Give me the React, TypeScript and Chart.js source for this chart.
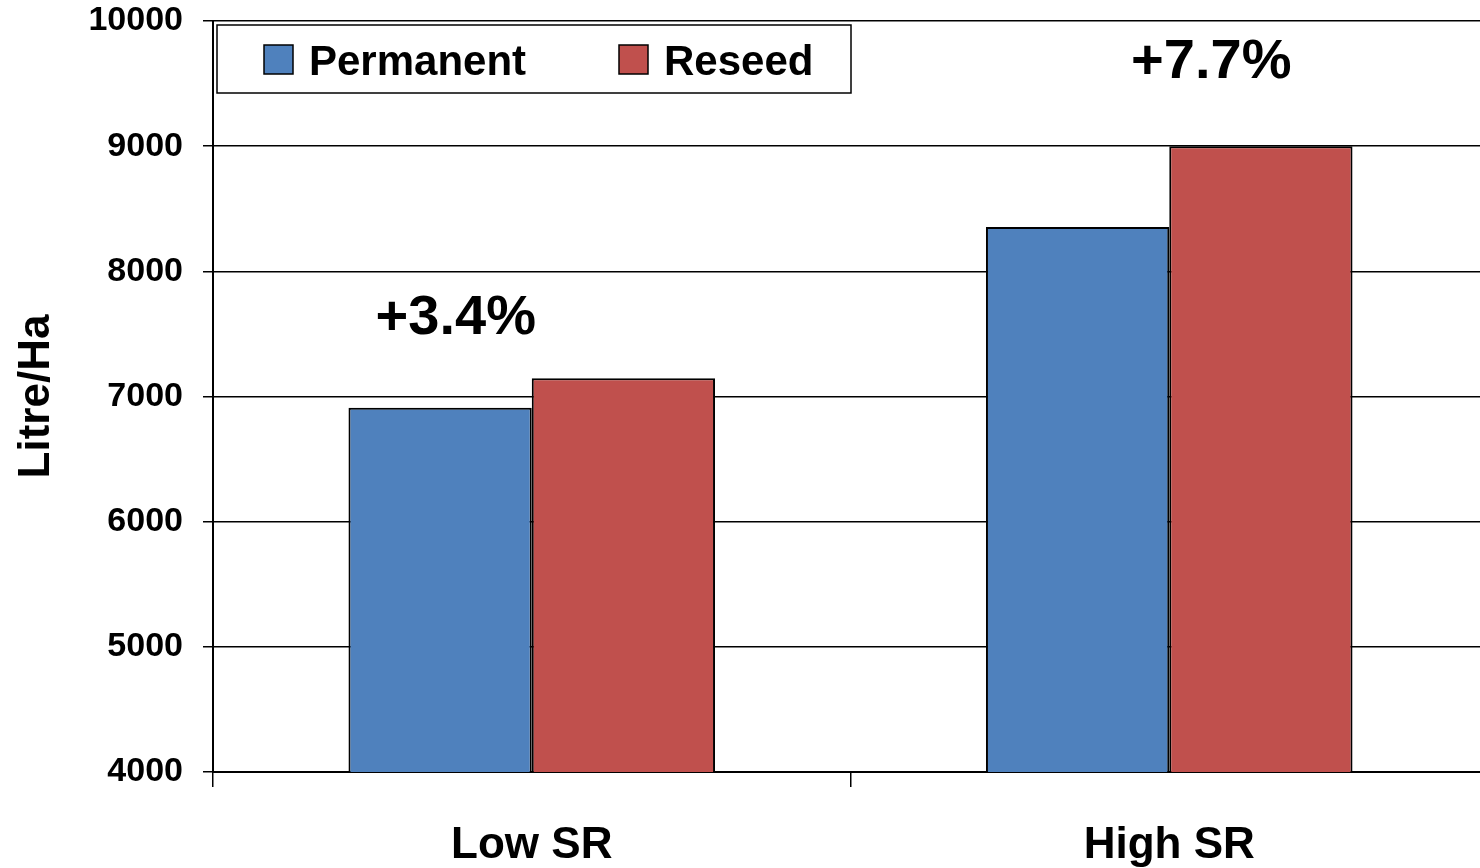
import React, { useEffect, useRef } from "react";
import { Chart, registerables } from "chart.js";

Chart.register(...registerables);

const categories = ["Low SR", "High SR"];
const seriesNames = ["Permanent", "Reseed"];
const permanentValues = [6910, 8355];
const reseedValues = [7145, 9000];
const seriesColors = ["#4F81BD", "#C0504D"];
const annotationLabels = ["+3.4%", "+7.7%"];
const annotationValues = [7620, 9670];
const yTicks = [4000, 5000, 6000, 7000, 8000, 9000, 10000];

const FONT = "'Liberation Sans', Arial, Helvetica, sans-serif";

const overlayPlugin = {
  id: "overlay",
  afterDraw(chart: any) {
    const { ctx, chartArea, scales } = chart;
    const x = scales.x;
    const y = scales.y;
    ctx.save();
    // annotations
    const offsets = [-76, 42];
    ctx.fillStyle = "#000";
    ctx.font = `bold 56px ${FONT}`;
    ctx.textAlign = "center";
    ctx.textBaseline = "middle";
    annotationLabels.forEach((t, i) => {
      const px = x.getPixelForValue(i) + offsets[i];
      const py = y.getPixelForValue(annotationValues[i]);
      ctx.fillText(t, px, py);
    });
    // legend box
    const bx = chartArea.left + 4;
    const by = chartArea.top + 4;
    const bw = 634;
    const bh = 68;
    ctx.fillStyle = "#fff";
    ctx.fillRect(bx, by, bw, bh);
    ctx.strokeStyle = "#000";
    ctx.lineWidth = 1.5;
    ctx.strokeRect(bx, by, bw, bh);
    const itemX = [bx + 47, bx + 402];
    ctx.font = `bold 42px ${FONT}`;
    ctx.textAlign = "left";
    ctx.textBaseline = "alphabetic";
    seriesNames.forEach((name, i) => {
      ctx.fillStyle = seriesColors[i];
      ctx.fillRect(itemX[i], by + 20, 29, 29);
      ctx.strokeStyle = "#000";
      ctx.lineWidth = 1.5;
      ctx.strokeRect(itemX[i], by + 20, 29, 29);
      ctx.fillStyle = "#000";
      ctx.fillText(name, itemX[i] + 45, by + 50);
    });
    ctx.restore();
  },
};

export default function App() {
  const ref = useRef<HTMLCanvasElement>(null);
  useEffect(() => {
    if (!ref.current) return;
    const chart = new Chart(ref.current, {
      type: "bar",
      data: {
        labels: categories,
        datasets: [
          {
            label: seriesNames[0],
            data: permanentValues,
            backgroundColor: seriesColors[0],
            borderColor: "#000",
            borderWidth: 2,
            barPercentage: 1,
            categoryPercentage: 0.575,
          },
          {
            label: seriesNames[1],
            data: reseedValues,
            backgroundColor: seriesColors[1],
            borderColor: "#000",
            borderWidth: 2,
            barPercentage: 1,
            categoryPercentage: 0.575,
          },
        ],
      },
      options: {
        animation: false,
        responsive: true,
        maintainAspectRatio: false,
        layout: { padding: { top: 0, left: 0, right: 0, bottom: 0 } },
        plugins: {
          legend: { display: false },
          tooltip: { enabled: false },
        },
        scales: {
          x: {
            offset: true,
            grid: {
              display: true,
              offset: true,
              drawOnChartArea: false,
              drawTicks: true,
              tickLength: 15,
              color: "#000",
              lineWidth: 1.5,
            },
            border: { display: true, color: "#000", width: 2 },
            ticks: {
              color: "#000",
              font: { family: FONT, size: 44, weight: "bold" },
              padding: 32,
              maxRotation: 0,
            },
            afterFit: (s: any) => {
              s.height = 96;
            },
          },
          y: {
            min: 4000,
            max: 10000,
            afterBuildTicks: (s: any) => {
              s.ticks = yTicks.map((v) => ({ value: v }));
            },
            grid: {
              color: "#000",
              lineWidth: 1.5,
              tickLength: 10,
            },
            border: { display: true, color: "#000", width: 2 },
            ticks: {
              color: "#000",
              font: { family: FONT, size: 34, weight: "bold" },
              padding: 20,
              callback: (v: any) => String(v),
            },
            title: {
              display: true,
              text: "Litre/Ha",
              color: "#000",
              font: { family: FONT, size: 44, weight: "bold", lineHeight: 1 },
              padding: { top: 15, bottom: 0 },
            },
            afterFit: (s: any) => {
              s.width = 213;
              s.paddingTop = 21;
              s.paddingBottom = 0;
            },
          },
        },
      },
      plugins: [overlayPlugin],
    });
    return () => chart.destroy();
  }, []);
  return (
    <div
      style={{
        position: "absolute",
        left: 0,
        top: 0,
        width: 1480,
        height: 868,
        overflow: "hidden",
        background: "#fff",
      }}
    >
      <div style={{ position: "relative", width: 1488, height: 868 }}>
        <canvas ref={ref} />
      </div>
    </div>
  );
}
